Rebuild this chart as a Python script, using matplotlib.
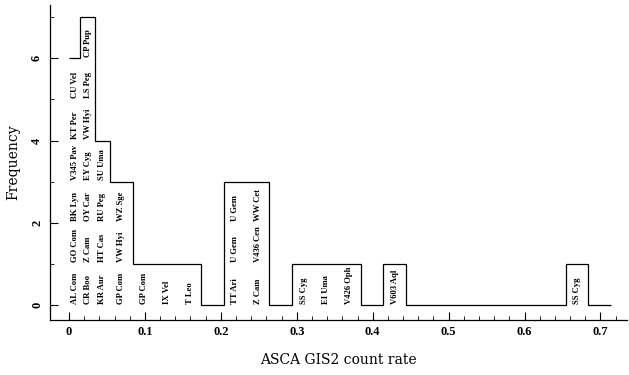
import matplotlib
matplotlib.use("Agg")
import matplotlib.pyplot as plt
import numpy as np

# bin edges (count rate) and counts
edges = [0.0, 0.015, 0.034, 0.054, 0.084, 0.114, 0.144, 0.174, 0.204, 0.234,
         0.264, 0.294, 0.324, 0.354, 0.384, 0.414, 0.444, 0.474, 0.504, 0.534,
         0.564, 0.594, 0.624, 0.654, 0.684, 0.714]
counts = [6, 7, 4, 3, 1, 1, 1, 0, 3, 3, 0, 1, 1, 1, 0, 1, 0, 0, 0, 0, 0, 0, 0, 1, 0]

# star names stacked in each bin, bottom to top
names = {
    0: ["AL Com", "GO Com", "BK Lyn", "V345 Pav", "KT Per", "CU Vel"],
    1: ["CR Boo", "Z Cam", "OY Car", "EY Cyg", "VW Hyi", "LS Peg", "CP Pup"],
    2: ["KR Aur", "HT Cas", "RU Peg", "SU Uma"],
    3: ["GP Com", "VW Hyi", "WZ Sge"],
    4: ["GP Com"],
    5: ["IX Vel"],
    6: ["T Leo"],
    8: ["TT Ari", "U Gem", "U Gem"],
    9: ["Z Cam", "V436 Cen", "WW Cet"],
    11: ["SS Cyg"],
    12: ["EI Uma"],
    13: ["V426 Oph"],
    15: ["V603 Aql"],
    23: ["SS Cyg"],
}

fig = plt.figure(figsize=(6.29, 3.75), dpi=100)
ax = fig.add_axes([0.0795, 0.1467, 0.918, 0.84])

ax.stairs(counts, edges, color="black", lw=0.9, baseline=None)

for b, lst in names.items():
    xc = (edges[b] + edges[b + 1]) / 2
    for i, s in enumerate(lst):
        ax.text(xc, i + 0.03, s, rotation=90, ha="center", va="bottom",
                fontsize=6.2, fontweight="bold", family="Liberation Serif")

ax.set_xlim(-0.025, 0.7355)
ax.set_ylim(-0.37, 7.3)
for s in ["top", "right"]:
    ax.spines[s].set_visible(False)
ax.spines["left"].set_linewidth(0.9)
ax.spines["bottom"].set_linewidth(0.9)

ax.set_xticks(np.arange(0, 0.71, 0.1))
ax.set_xticks(np.arange(0, 0.73, 0.02), minor=True)
ax.set_yticks([0, 2, 4, 6])
ax.set_yticks([1, 3, 5, 7], minor=True)
ax.set_xticklabels(["0", "0.1", "0.2", "0.3", "0.4", "0.5", "0.6", "0.7"])
ax.tick_params(which="major", direction="in", length=6, width=0.8, labelsize=9)
ax.tick_params(which="minor", direction="in", length=3, width=0.6)
ax.tick_params(axis="x", pad=4)
ax.tick_params(axis="y", pad=5)
for lab in ax.get_yticklabels():
    lab.set_rotation(90)
    lab.set_va("center")
for lab in ax.get_xticklabels() + ax.get_yticklabels():
    lab.set_family("Liberation Serif")
    lab.set_fontweight("bold")

ax.set_xlabel("ASCA GIS2 count rate", family="DejaVu Serif", fontsize=10, labelpad=11)
ax.set_ylabel("Frequency", family="DejaVu Serif", fontsize=10, labelpad=8)

fig.savefig("out.png", dpi=100)
